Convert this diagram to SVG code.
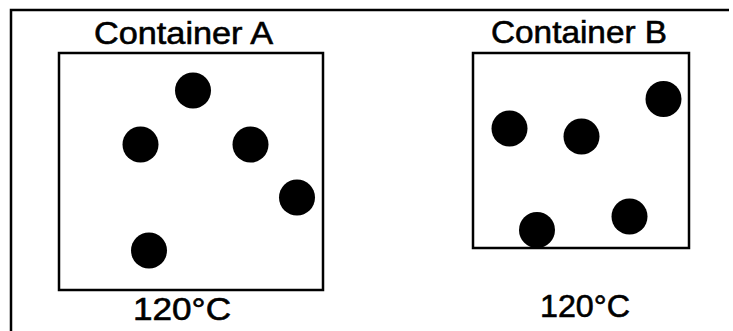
<svg xmlns="http://www.w3.org/2000/svg" width="733" height="331" viewBox="0 0 733 331">
<style>
.frame{fill:none;stroke:#000;stroke-width:2.5}
.box{fill:#fff;stroke:#000;stroke-width:2.5}
.p{fill:#000}
.t{font-family:"Liberation Sans",Arial,sans-serif;font-size:32px;fill:#000;stroke:#000;stroke-width:0.6}
</style>
<rect width="733" height="331" fill="#fff"/>
<path class="frame" d="M11,331 V10 H729"/>
<g id="containerA">
<text class="t" x="94" y="44" textLength="179" lengthAdjust="spacingAndGlyphs">Container A</text>
<rect class="box" x="59" y="53" width="264" height="237"/>
<circle class="p" cx="193" cy="90.5" r="18"/>
<circle class="p" cx="140.5" cy="144.5" r="18"/>
<circle class="p" cx="250.5" cy="144.5" r="18"/>
<circle class="p" cx="297" cy="197.5" r="18"/>
<circle class="p" cx="149" cy="250.5" r="18"/>
<text class="t" x="133" y="320" textLength="98" lengthAdjust="spacingAndGlyphs">120°C</text>
</g>
<g id="containerB">
<text class="t" x="491" y="43" textLength="176" lengthAdjust="spacingAndGlyphs">Container B</text>
<rect class="box" x="473" y="53" width="216" height="195"/>
<circle class="p" cx="509.5" cy="128.5" r="18"/>
<circle class="p" cx="581.5" cy="136.5" r="18"/>
<circle class="p" cx="663.5" cy="99" r="18"/>
<circle class="p" cx="537" cy="230" r="18"/>
<circle class="p" cx="629.5" cy="216.5" r="18"/>
<text class="t" x="540" y="317" textLength="90" lengthAdjust="spacingAndGlyphs">120°C</text>
</g>
<g id="connectors"/>
</svg>
